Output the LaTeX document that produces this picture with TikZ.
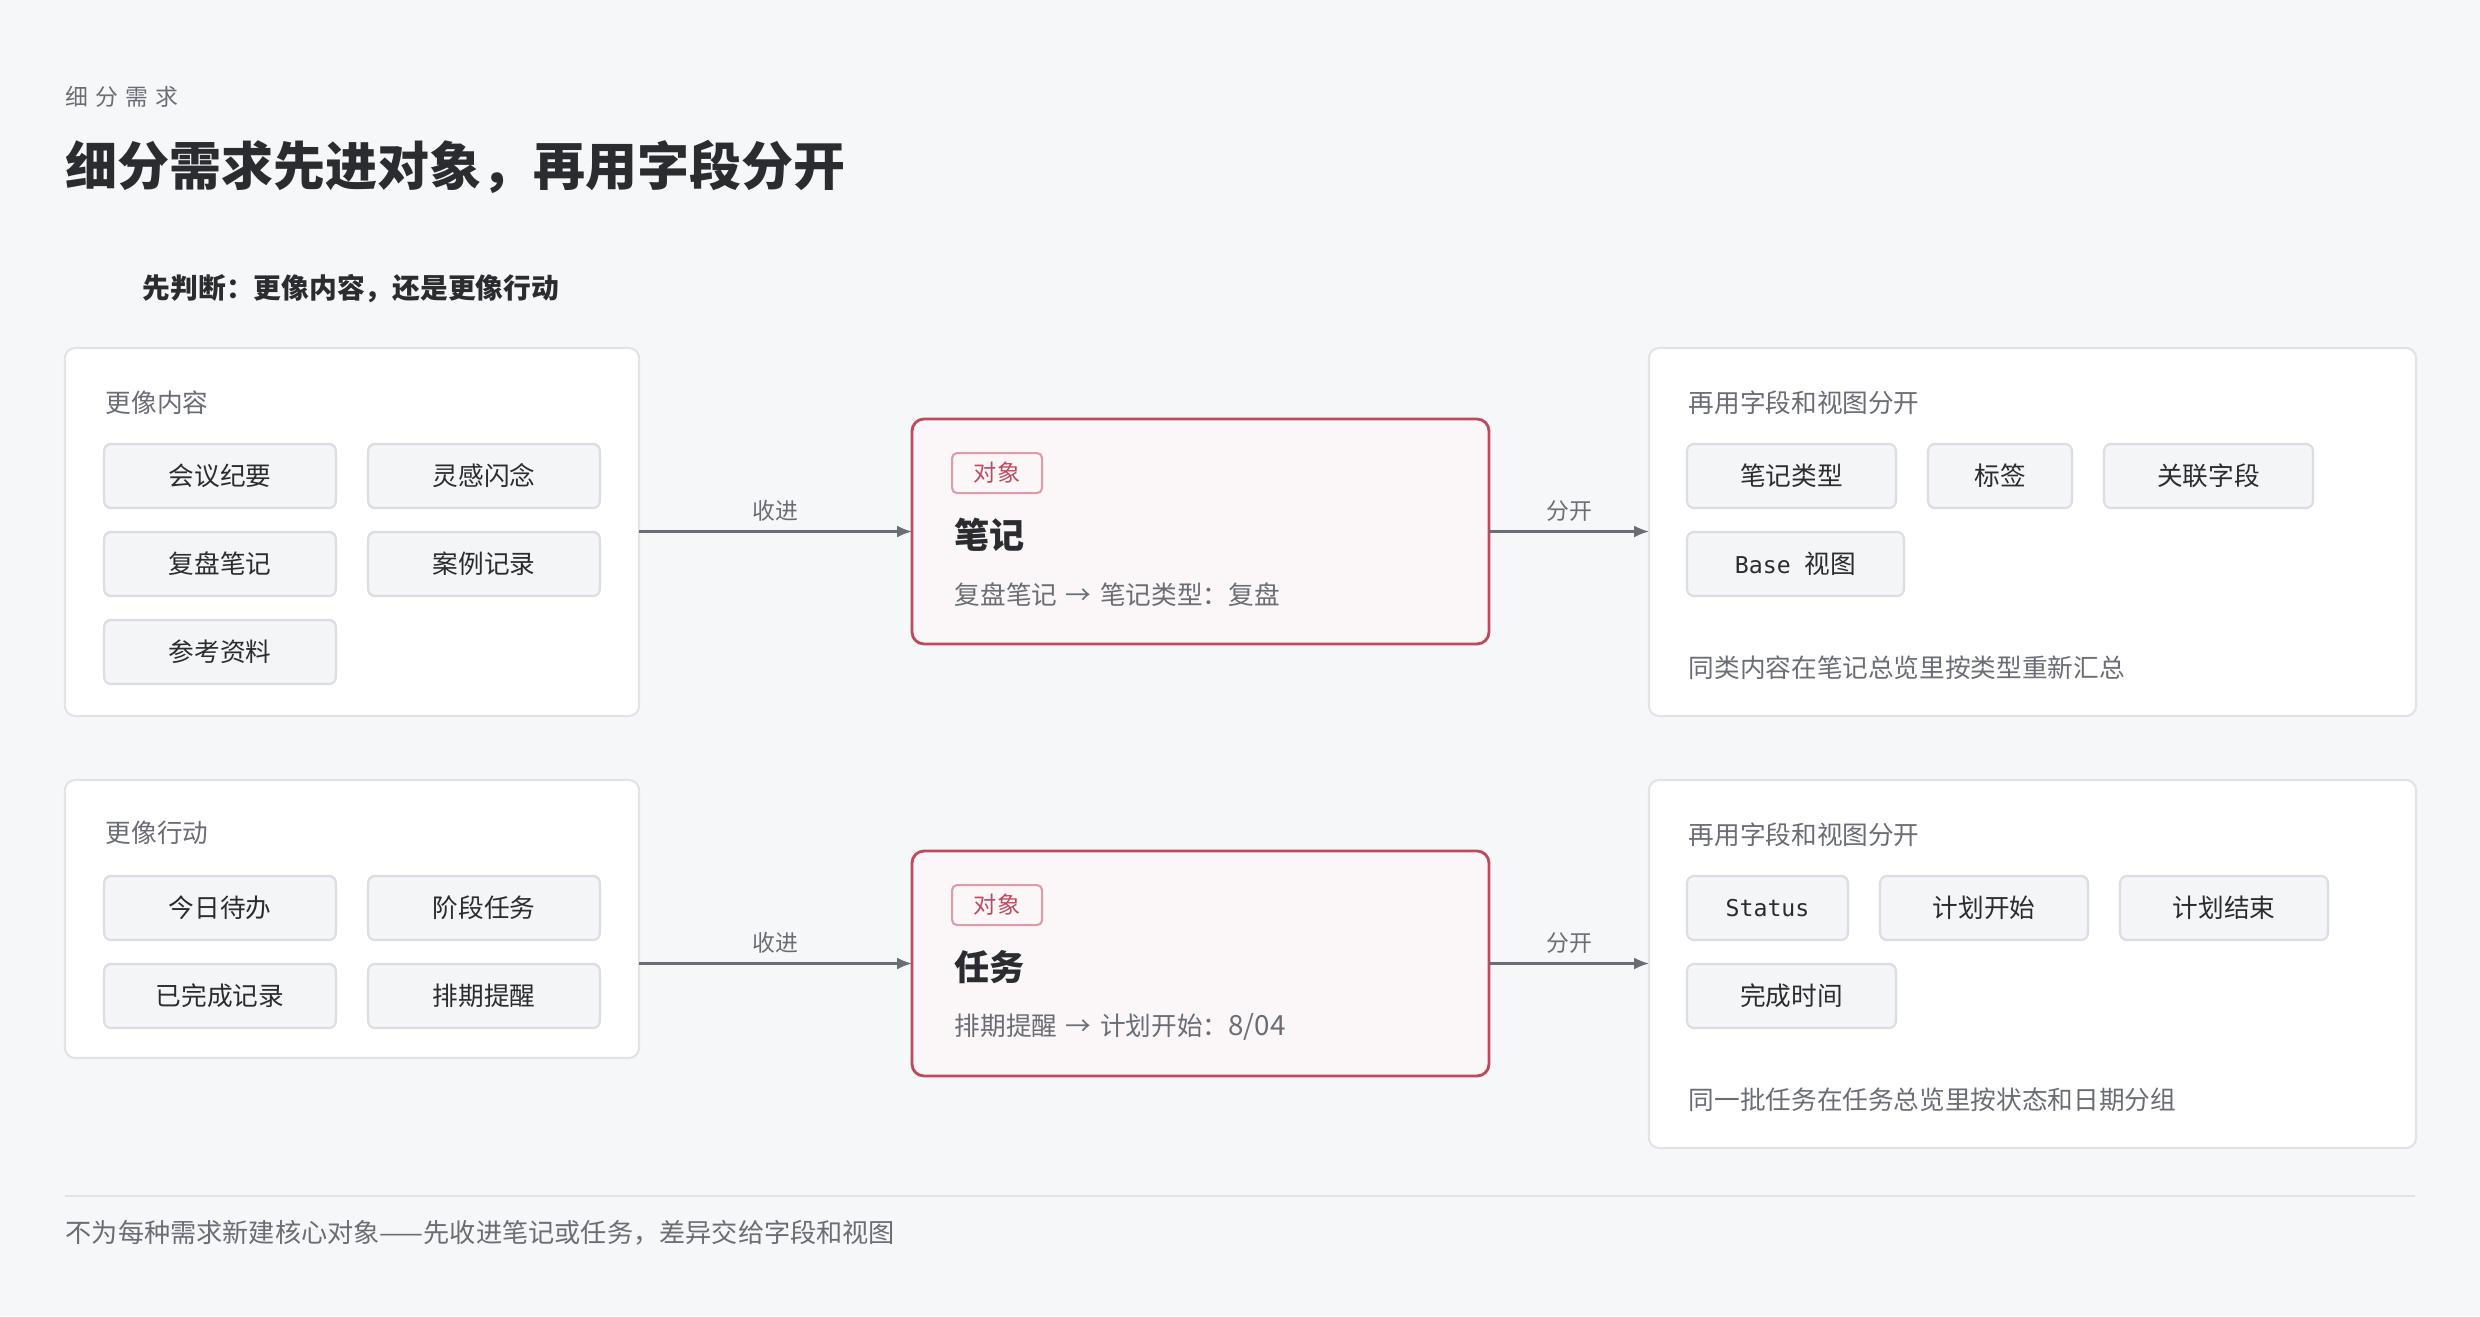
\documentclass[tikz,border=0pt]{standalone}
\usepackage{fontspec}
\setmainfont{Noto Sans CJK SC}
\newfontfamily\monofont{DejaVu Sans Mono}
\usetikzlibrary{positioning,arrows.meta}

\definecolor{pagebg}{HTML}{F6F7F9}
\definecolor{panelline}{HTML}{E2E3E7}
\definecolor{chipfill}{HTML}{F4F5F7}
\definecolor{chipline}{HTML}{DCDDE1}
\definecolor{inkdark}{HTML}{2B2C30}
\definecolor{inkgray}{HTML}{6A6D74}
\definecolor{objred}{HTML}{BE4A5E}
\definecolor{objfill}{HTML}{FBF6F7}
\definecolor{tagline}{HTML}{DE9CA8}
\newcommand{\myfs}[1]{\fontsize{#1}{#1}\selectfont}

\begin{document}
\begin{tikzpicture}[node distance=0.24cm and 0.32cm, auto]%, show background grid]
	\tikzset{
		mypanel/.style={rectangle, rounded corners=0.1cm, draw=panelline, fill=white, line width=0.6pt, anchor=north west, inner sep=0pt, outer sep=0pt},
		mychip/.style={rectangle, rounded corners=0.07cm, draw=chipline, fill=chipfill, line width=0.6pt, minimum height=0.64cm, minimum width=#1, inner sep=0pt, outer sep=0pt, text=inkdark, font=\myfs{7.3}},
		mychip/.default=2.32cm,
		myobj/.style={rectangle, rounded corners=0.12cm, draw=objred, fill=objfill, line width=0.8pt, anchor=north west, minimum width=5.77cm, minimum height=2.25cm, outer sep=0pt},
		mytag/.style={rectangle, rounded corners=0.05cm, draw=tagline, fill=objfill, text=objred, line width=0.6pt, minimum width=0.90cm, minimum height=0.40cm, inner sep=0pt, anchor=north west, font=\myfs{6.6}},
		myname/.style={anchor=west, inner sep=0pt, text=inkdark, font=\bfseries\myfs{10}},
		mylabel/.style={anchor=west, inner sep=0pt, text=inkgray, font=\myfs{7.3}},
		myedge/.style={inner sep=0pt, text=inkgray, font=\myfs{6.5}},
		myarrow/.style={->, >={Latex[length=0.15cm,width=0.12cm]}, draw=inkgray, line width=0.6pt}
	}
	\fill[pagebg] (0,0) rectangle (24.8,-13.16);

	\node[anchor=west, inner sep=0pt, text=inkgray, font=\myfs{6.5}] (kicker) at (0.65,-0.97) {细\kern2pt 分\kern2pt 需\kern2pt 求};
	\node[anchor=west, inner sep=0pt, text=inkdark, font=\bfseries\myfs{14.8}] (title) at (0.65,-1.67) {细分需求先进对象，再用字段分开};
	\node[anchor=west, inner sep=0pt, text=inkdark, font=\bfseries\myfs{7.9}] (ask) at (1.42,-2.89) {先判断：更像内容，还是更像行动};

	% content side
	\node[mypanel, minimum width=5.74cm, minimum height=3.68cm] (content) at (0.65,-3.48) {};
	\node[mylabel] (contentlbl) at ([shift={(0.40,-0.55)}]content.north west) {更像内容};
	\node[mychip, anchor=north west] (c1) at ([shift={(0.39,-0.96)}]content.north west) {会议纪要};
	\node[mychip, right=of c1] (c2) {灵感闪念};
	\node[mychip, below=of c1] (c3) {复盘笔记};
	\node[mychip, right=of c3] (c4) {案例记录};
	\node[mychip, below=of c3] (c5) {参考资料};

	\node[myobj] (note) at (9.12,-4.19) {};
	\node[mytag] (notetag) at ([shift={(0.39,-0.33)}]note.north west) {对象};
	\node[myname] (notename) at ([shift={(0.42,-1.16)}]note.north west) {笔记};
	\node[mylabel] (noteeg) at ([shift={(0.42,-1.76)}]note.north west) {复盘笔记\hspace{0.8pt} → \hspace{0.8pt}笔记类型：复盘};

	\node[mypanel, minimum width=7.67cm, minimum height=3.68cm] (notefields) at (16.49,-3.48) {};
	\node[mylabel] (nflbl) at ([shift={(0.39,-0.55)}]notefields.north west) {再用字段和视图分开};
	\node[mychip=2.09cm, anchor=north west] (nf1) at ([shift={(0.38,-0.96)}]notefields.north west) {笔记类型};
	\node[mychip=1.44cm, right=of nf1] (nf2) {标签};
	\node[mychip=2.09cm, right=of nf2] (nf3) {关联字段};
	\node[mychip=2.17cm, below=of nf1.south west, anchor=north west] (nf4) {{\monofont\myfs{6.6}Base}\hspace{4pt}视图};
	\node[mylabel] (nfsum) at ([shift={(0.39,-3.20)}]notefields.north west) {同类内容在笔记总览里按类型重新汇总};

	% action side
	\node[mypanel, minimum width=5.74cm, minimum height=2.78cm] (action) at (0.65,-7.80) {};
	\node[mylabel] (actionlbl) at ([shift={(0.40,-0.53)}]action.north west) {更像行动};
	\node[mychip, anchor=north west] (a1) at ([shift={(0.39,-0.96)}]action.north west) {今日待办};
	\node[mychip, right=of a1] (a2) {阶段任务};
	\node[mychip, below=of a1] (a3) {已完成记录};
	\node[mychip, right=of a3] (a4) {排期提醒};

	\node[myobj] (task) at (9.12,-8.51) {};
	\node[mytag] (tasktag) at ([shift={(0.39,-0.33)}]task.north west) {对象};
	\node[myname] (taskname) at ([shift={(0.42,-1.16)}]task.north west) {任务};
	\node[mylabel] (taskeg) at ([shift={(0.42,-1.76)}]task.north west) {排期提醒\hspace{0.8pt} → \hspace{0.8pt}计划开始：{\myfs{7.9}8/04}};

	\node[mypanel, minimum width=7.67cm, minimum height=3.68cm] (taskfields) at (16.49,-7.80) {};
	\node[mylabel] (tflbl) at ([shift={(0.39,-0.55)}]taskfields.north west) {再用字段和视图分开};
	\node[mychip=1.61cm, anchor=north west, font=\monofont\myfs{6.6}] (tf1) at ([shift={(0.38,-0.96)}]taskfields.north west) {Status};
	\node[mychip=2.08cm, right=of tf1] (tf2) {计划开始};
	\node[mychip=2.08cm, right=of tf2] (tf3) {计划结束};
	\node[mychip=2.09cm, below=of tf1.south west, anchor=north west] (tf4) {完成时间};
	\node[mylabel] (tfsum) at ([shift={(0.39,-3.20)}]taskfields.north west) {同一批任务在任务总览里按状态和日期分组};

	\draw[myarrow] (content.east |- note.west) -- (note.west) node[midway, above=0.09cm, myedge] {收进};
	\draw[myarrow] (note.east) -- (notefields.west |- note.east) node[midway, above=0.09cm, myedge] {分开};
	\draw[myarrow] (action.east |- task.west) -- (task.west) node[midway, above=0.09cm, myedge] {收进};
	\draw[myarrow] (task.east) -- (taskfields.west |- task.east) node[midway, above=0.09cm, myedge] {分开};

	\draw[panelline, line width=0.6pt] (0.65,-11.96) -- (24.15,-11.96);
	\node[mylabel, font=\myfs{7.45}] (footer) at (0.65,-12.33) {不为每种需求新建核心对象——先收进笔记或任务，差异交给字段和视图};
\end{tikzpicture}
\end{document}
